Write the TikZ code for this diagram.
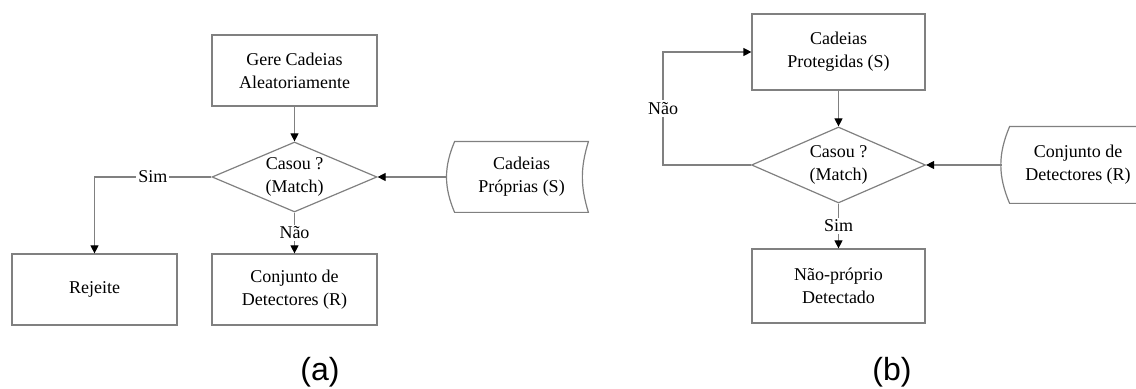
\documentclass[tikz,border=0pt]{standalone}
\usepackage{fontspec}
\setmainfont{Liberation Serif}
\newfontfamily\capfont{Liberation Sans}
\usetikzlibrary{arrows.meta, shapes.geometric}

% outline of a stored-data symbol round a node
\newcommand{\storeoutline}[1]{%
  \draw[line] (#1.north west) to[bend right=23] (#1.south west) -- (#1.south east)
    to[bend left=17] (#1.north east) -- cycle;}

\begin{document}
\begin{tikzpicture}[x=0.5pt, y=0.5pt,
    line/.style={draw=gray, line width=0.6pt},
    flow/.style={gray, line width=0.6pt, -{Triangle[length=4pt, width=4pt, color=black, fill=black]}},
    txt/.style={font=\fontsize{9}{11.5}\selectfont, text=black, align=center},
    box/.style={txt, line, rectangle, minimum width=82.5pt, minimum height=35.5pt},
    decision/.style={txt, line, diamond, aspect=2.36, inner sep=0pt, minimum width=82.5pt, minimum height=35pt},
    storage/.style={txt, rectangle, minimum width=66.5pt, minimum height=35pt},
    tag/.style={txt, fill=white, inner sep=1pt},
    caption/.style={font=\capfont\fontsize{16}{19}\selectfont}]

    \useasboundingbox (0,0) rectangle (1136,389);

    % (a) detector generation
    \node[box] (gen) at (294.5,318.5) {Gere Cadeias\\Aleatoriamente};
    \node[decision] (matchA) at (294.5,212) {Casou ?\\(Match)};
    \node[storage] (self) at (521.5,212) {Cadeias\\Próprias (S)};
    \storeoutline{self}
    \coordinate (selfin) at ([xshift=-4pt]self.west);
    \node[box] (reject) at (94.5,99.5) {Rejeite};
    \node[box] (detA) at (294.5,99.5) {Conjunto de\\Detectores (R)};

    \draw[flow] (gen) -- (matchA);
    \draw[flow] (selfin) -- (matchA.east);
    \draw[flow] (matchA.west) -| node[tag, pos=0.25] {Sim} (reject.north);
    \draw[flow] (matchA.south) -- node[tag] {Não} (detA.north);
    \node[caption] (capA) at (320,17) {(a)};

    % (b) monitoring
    \node[box, minimum width=86.5pt, minimum height=38pt] (prot) at (838.5,337) {Cadeias\\Protegidas (S)};
    \node[decision, minimum width=87pt, minimum height=38pt] (matchB) at (838.5,224) {Casou ?\\(Match)};
    \node[storage, minimum width=68pt, minimum height=38pt] (detB) at (1078,224) {Conjunto de\\Detectores (R)};
    \storeoutline{detB}
    \coordinate (detin) at ([xshift=-4pt]detB.west);
    \node[box, minimum width=86.5pt, minimum height=37pt] (nonself) at (838.5,103) {Não-próprio\\Detectado};
    \coordinate (back) at (663,224);

    \draw[flow] (prot) -- (matchB);
    \draw[flow] (detin) -- (matchB.east);
    \draw[flow] (matchB.west) -- (back) |- node[tag, pos=0.25] {Não} (prot.west);
    \draw[flow] (matchB.south) -- node[tag] {Sim} (nonself.north);
    \node[caption] (capB) at (892,17) {(b)};
\end{tikzpicture}
\end{document}
